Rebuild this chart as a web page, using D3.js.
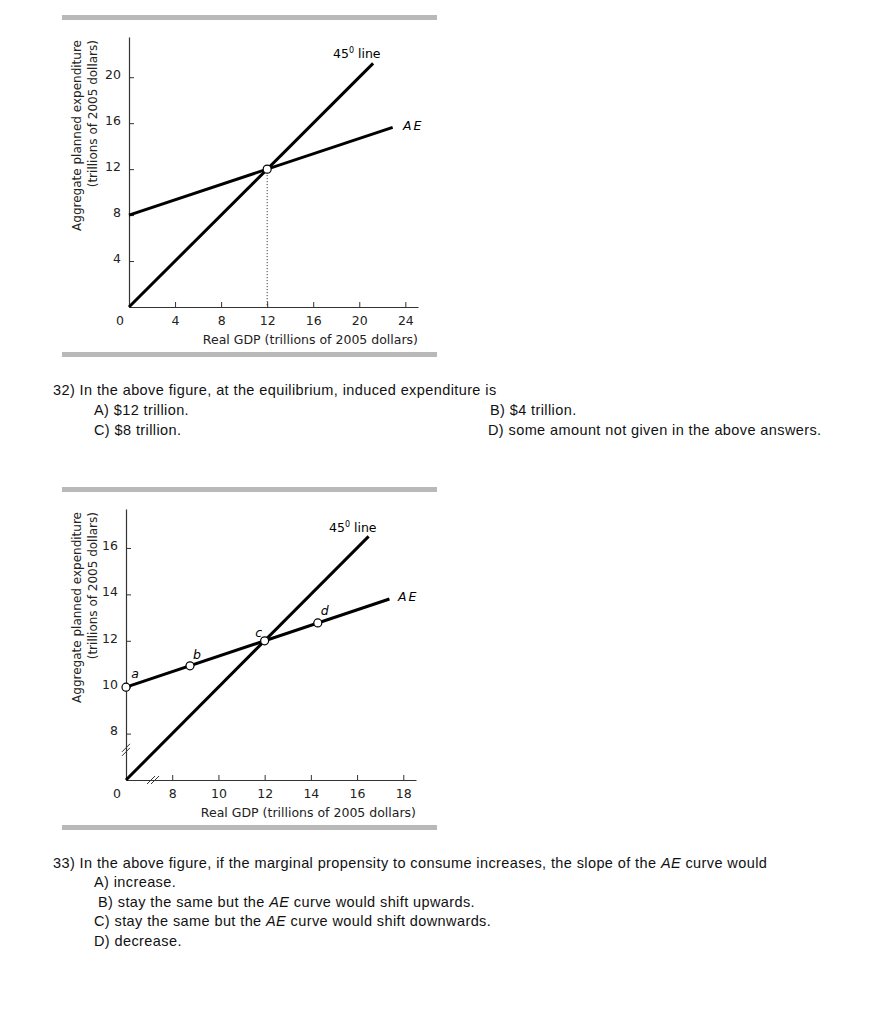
<!DOCTYPE html>
<html>
<head>
<meta charset="UTF-8">
<title>AE and 45 degree line</title>
<script src="https://d3js.org/d3.v7.min.js"></script>
<style>
  body { margin: 0; background: #fff; }
  svg text { font-family: "Liberation Sans", Arial, sans-serif; }
</style>
</head>
<body>
<div id="page"></div>
<script>
// ---- data: top figure (question 32) ----
var topXTicks = [4, 8, 12, 16, 20, 24];
var topYTicks = [4, 8, 12, 16, 20];
var topLine45 = [[0, 0], [21.2, 21.2]];
var topAE = [[0, 8], [22.9, 15.63]];
var topEquilibrium = [[12, 12]];

// ---- data: bottom figure (question 33) ----
var botXTicks = [8, 10, 12, 14, 16, 18];
var botYTicks = [8, 10, 12, 14, 16];
var botLine45 = [[6, 6], [16.5, 16.5]];
var botAE = [[6, 10], [17.4, 13.8]];
var botPointNames = ["a", "b", "c", "d"];
var botPointX = [6, 8.77, 12, 14.3];
var botPointY = [10, 10.92, 12, 12.77];

var svg = d3.select("#page").append("svg")
    .attr("width", 869)
    .attr("height", 1024);

// gray rules above and below each figure
[[15, 352], [487, 825]].forEach(function(p) {
    p.forEach(function(yy) {
        svg.append("rect").attr("x", 62).attr("y", yy)
            .attr("width", 375).attr("height", 5).attr("fill", "#b9b9b9");
    });
});

var chartFont = "'DejaVu Sans', sans-serif";

function drawFigure(cfg) {
    var g = svg.append("g");
    var x = d3.scaleLinear().domain(cfg.xDomain).range(cfg.xRange);
    var y = d3.scaleLinear().domain(cfg.yDomain).range(cfg.yRange);

    // axes, ticks pointing inwards
    var xAxis = d3.axisBottom(x).tickValues(cfg.xTicks).tickSizeInner(-5).tickSizeOuter(0).tickPadding(9);
    var yAxis = d3.axisLeft(y).tickValues(cfg.yTicks).tickSizeInner(-5).tickSizeOuter(0).tickPadding(8);

    var gx = g.append("g").attr("transform", "translate(0," + cfg.yRange[0] + ")").call(xAxis);
    var gy = g.append("g").attr("transform", "translate(" + cfg.xRange[0] + ",0)").call(yAxis);
    [gx, gy].forEach(function(a) {
        a.attr("font-family", null).attr("font-size", null);
        a.select(".domain").attr("stroke", "#333").attr("stroke-width", 1.2);
        a.selectAll(".tick line").attr("stroke", "#333").attr("stroke-width", 1);
        a.selectAll(".tick text").attr("font-size", 12.5).attr("fill", "#222")
            .style("font-family", chartFont);
    });
    gy.selectAll(".tick text").attr("dy", "0.1em");

    // origin label
    g.append("text").attr("x", cfg.xRange[0] - 9).attr("y", cfg.yRange[0] + 18)
        .attr("text-anchor", "middle").attr("font-size", 12.5).attr("fill", "#222")
        .style("font-family", chartFont)
        .text("0");

    // axis titles
    g.append("text").attr("x", cfg.xRange[1]).attr("y", cfg.yRange[0] + 37)
        .attr("text-anchor", "end").attr("font-size", 12.5).attr("fill", "#222")
        .style("font-family", chartFont)
        .text("Real GDP (trillions of 2005 dollars)");
    var yt = g.append("text").attr("transform", "translate(81," + (cfg.yRange[1] + 3) + ") rotate(-90)")
        .attr("text-anchor", "end").attr("font-size", 12).attr("fill", "#222")
        .style("font-family", chartFont);
    yt.append("tspan").attr("x", 0).attr("y", 0).text("Aggregate planned expenditure");
    yt.append("tspan").attr("x", 0).attr("y", 16).text("(trillions of 2005 dollars)");

    // axis break marks
    if (cfg.breaks) {
        var by = y(cfg.breaks[1]), bx = x(cfg.breaks[0]);
        [-2, 2].forEach(function(o) {
            g.append("line").attr("x1", cfg.xRange[0] - 4).attr("y1", by + 4 + o)
                .attr("x2", cfg.xRange[0] + 4).attr("y2", by - 4 + o)
                .attr("stroke", "#333").attr("stroke-width", 1);
            g.append("line").attr("x1", bx - 4 + o).attr("y1", cfg.yRange[0] + 4)
                .attr("x2", bx + 4 + o).attr("y2", cfg.yRange[0] - 4)
                .attr("stroke", "#333").attr("stroke-width", 1);
        });
    }

    var line = d3.line().x(function(d) { return x(d[0]); }).y(function(d) { return y(d[1]); });

    // dotted drop line
    if (cfg.drop) {
        cfg.drop.forEach(function(d) {
            g.append("line").attr("x1", x(d[0])).attr("x2", x(d[0]))
                .attr("y1", y(d[1])).attr("y2", y(cfg.yDomain[0]))
                .attr("stroke", "#222").attr("stroke-width", 1).attr("stroke-dasharray", "1,2");
        });
    }

    g.append("path").datum(cfg.line45).attr("d", line)
        .attr("fill", "none").attr("stroke", "#000").attr("stroke-width", 3);
    g.append("path").datum(cfg.ae).attr("d", line)
        .attr("fill", "none").attr("stroke", "#000").attr("stroke-width", 3);

    g.selectAll("circle.pt").data(cfg.points).enter().append("circle")
        .attr("class", "pt")
        .attr("cx", function(d) { return x(d[0]); })
        .attr("cy", function(d) { return y(d[1]); })
        .attr("r", 4).attr("fill", "#fff").attr("stroke", "#000").attr("stroke-width", 1.2);

    if (cfg.names) {
        g.selectAll("text.pl").data(cfg.points).enter().append("text")
            .attr("class", "pl")
            .attr("x", function(d, i) { return x(d[0]) + cfg.nameOffsets[i][0]; })
            .attr("y", function(d, i) { return y(d[1]) + cfg.nameOffsets[i][1]; })
            .attr("text-anchor", "middle").attr("font-size", 12.5).attr("font-style", "italic")
            .style("font-family", chartFont)
            .text(function(d, i) { return cfg.names[i]; });
    }

    // line labels
    var l45 = g.append("text").attr("x", cfg.label45[0]).attr("y", cfg.label45[1])
        .attr("font-size", 12.5).style("font-family", chartFont);
    l45.append("tspan").text("45");
    l45.append("tspan").attr("font-size", 8).attr("dy", -5).text("0");
    l45.append("tspan").attr("dy", 5).text(" line");
    g.append("text").attr("x", cfg.labelAE[0]).attr("y", cfg.labelAE[1])
        .attr("font-size", 12.5).attr("font-style", "italic").attr("letter-spacing", 2)
        .style("font-family", chartFont)
        .text("AE");
}

drawFigure({
    xDomain: [0, 25.1], xRange: [129, 418],
    yDomain: [0, 23.5], yRange: [307, 37],
    xTicks: topXTicks, yTicks: topYTicks,
    line45: topLine45, ae: topAE,
    points: topEquilibrium, drop: topEquilibrium,
    label45: [333, 58], labelAE: [403, 130]
});

drawFigure({
    xDomain: [6, 18.55], xRange: [126, 416],
    yDomain: [6, 17.68], yRange: [780, 509],
    xTicks: botXTicks, yTicks: botYTicks,
    line45: botLine45, ae: botAE,
    points: botPointX.map(function(v, i) { return [v, botPointY[i]]; }),
    names: botPointNames,
    nameOffsets: [[9, -9], [7, -7], [-6, -4], [7, -8]],
    breaks: [7.17, 7.3],
    label45: [329, 532], labelAE: [398, 601]
});

// question text
var q = svg.append("g").attr("font-size", 14.5).attr("letter-spacing", 0.4).attr("fill", "#111");
function put(xx, yy, parts) {
    var t = q.append("text").attr("x", xx).attr("y", yy);
    parts.forEach(function(p) {
        var s = t.append("tspan").text(p[0]);
        if (p[1]) s.attr("font-style", "italic");
    });
}
put(53, 395, [["32) In the above figure, at the equilibrium, induced expenditure is"]]);
put(94, 415, [["A) $12 trillion."]]);
put(490, 415, [["B) $4 trillion."]]);
put(94, 435, [["C) $8 trillion."]]);
put(488, 435, [["D) some amount not given in the above answers."]]);

put(53, 868, [["33) In the above figure, if the marginal propensity to consume increases, the slope of the "], ["AE", true], [" curve would"]]);
put(94, 887, [["A) increase."]]);
put(98, 907, [["B) stay the same but the "], ["AE", true], [" curve would shift upwards."]]);
put(94, 926, [["C) stay the same but the "], ["AE", true], [" curve would shift downwards."]]);
put(94, 946, [["D) decrease."]]);
</script>
</body>
</html>
